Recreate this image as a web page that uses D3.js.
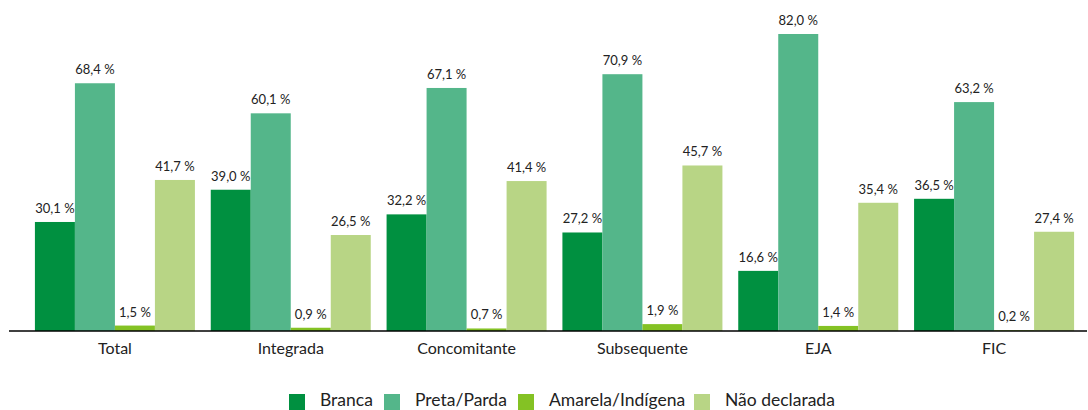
<!DOCTYPE html>
<html><head><meta charset="utf-8">
<script src="https://cdn.jsdelivr.net/npm/d3@7"></script>
<style>html,body{margin:0;padding:0;background:#fff;overflow:hidden}</style>
</head><body>
<svg id="c" width="1088" height="410"></svg>
<script>
const categories = ["Total","Integrada","Concomitante","Subsequente","EJA","FIC"];
const seriesNames = ["Branca","Preta/Parda","Amarela/Indígena","Não declarada"];
const branca = [30.1,39.0,32.2,27.2,16.6,36.5];
const pretaParda = [68.4,60.1,67.1,70.9,82.0,63.2];
const amarelaIndigena = [1.5,0.9,0.7,1.9,1.4,0.2];
const naoDeclarada = [41.7,26.5,41.4,45.7,35.4,27.4];
const colors = ["#009040","#54b68a","#84c224","#b8d585"];
const values = [branca, pretaParda, amarelaIndigena, naoDeclarada];

const font = "Lato, 'Open Sans', sans-serif";
const svg = d3.select("#c");
const baseY = 331;
const x0 = d3.scaleBand().domain(categories).range([27,1082]).paddingInner(0.09).paddingOuter(0.045);
const x1 = d3.scaleBand().domain(seriesNames).range([0,x0.bandwidth()]);
const y = d3.scaleLinear().domain([0,82]).range([baseY,34]);
const fmt = v => d3.format(".1f")(v).replace(".",",") + " %";

const g = svg.append("g");
categories.forEach((c,i)=>{
  const grp = g.append("g").attr("transform",`translate(${x0(c)},0)`);
  seriesNames.forEach((s,j)=>{
    const v = values[j][i];
    grp.append("rect").attr("x",x1(s)).attr("width",x1.bandwidth())
      .attr("y",y(v)).attr("height",baseY-y(v)).attr("fill",colors[j]);
    grp.append("text").attr("x",x1(s)+x1.bandwidth()/2).attr("y",y(v)-9)
      .attr("text-anchor","middle").attr("font-family",font).attr("font-size",13)
      .attr("fill","#222").text(fmt(v));
  });
});

// axis
const axis = svg.append("g").attr("transform",`translate(0,${baseY})`)
  .call(d3.axisBottom(x0).tickSize(0).tickPadding(12));
axis.select(".domain").attr("d","M9,0H1087").attr("stroke","#000").attr("stroke-width",1.5);
axis.selectAll("text").attr("font-family",font).attr("font-size",16).attr("fill","#222");

// legend
const legX = [289,384,518,694];
const leg = svg.append("g");
seriesNames.forEach((s,j)=>{
  leg.append("rect").attr("x",legX[j]).attr("y",394).attr("width",16).attr("height",16).attr("fill",colors[j]);
  leg.append("text").attr("x",legX[j]+31).attr("y",406).attr("font-family",font).attr("font-size",17.5)
    .attr("fill","#222").text(s);
});
</script>
</body></html>
